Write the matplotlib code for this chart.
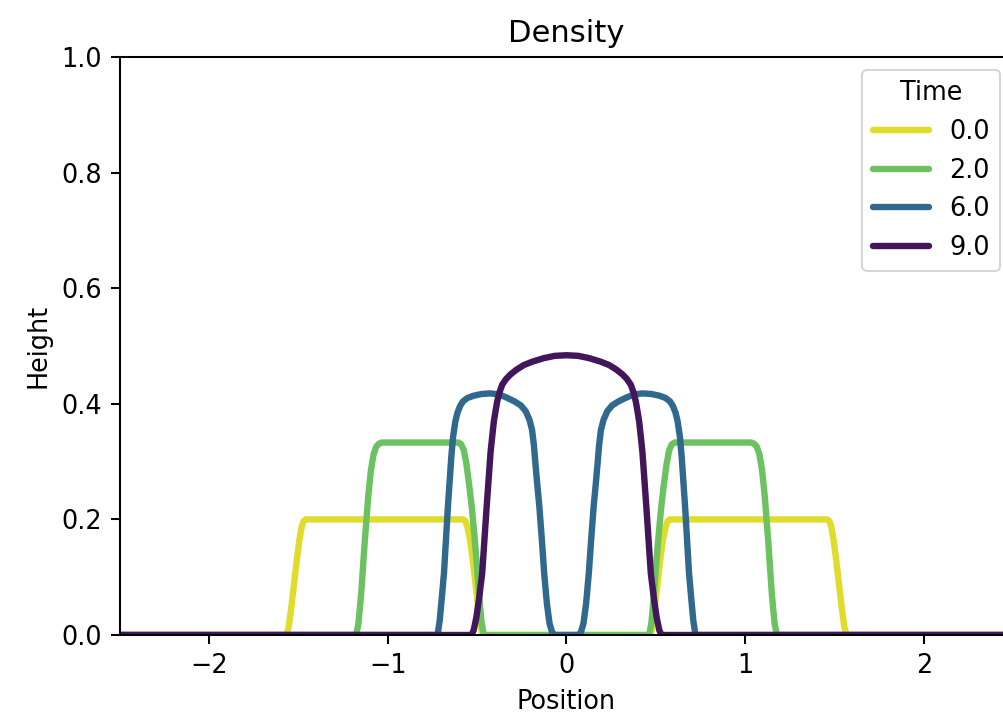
#!/usr/bin/env python3
"""
Density snapshots of a spreading/merging profile at a few output times.

    python3 plot.py

Writes out.png. The axes run past the right edge of the canvas on purpose,
so the right spine and the x=2.5 end are off-screen.
"""
import matplotlib
matplotlib.use("Agg")
import matplotlib.pyplot as plt

# every size below is the matplotlib default times this factor
SCALE = 1.84

TIMES = ["0.0", "2.0", "6.0", "9.0"]
COLORS = ["#e0dc2b", "#6cc261", "#31688e", "#43155a"]

# t = 0.0: two flat blocks
T0_X = [-2.5, -1.568, -1.555, -1.54, -1.525, -1.51, -1.495, -1.483, -1.472, -1.46,
        -0.578, -0.566, -0.555, -0.54, -0.525, -0.51, -0.495, -0.482, -0.47,
        0.47, 0.482, 0.495, 0.51, 0.525, 0.54, 0.555, 0.566, 0.578,
        1.46, 1.472, 1.483, 1.495, 1.51, 1.525, 1.54, 1.555, 1.568, 2.5]
T0_Y = [0.0, 0.0, 0.015, 0.05, 0.09, 0.13, 0.165, 0.187, 0.197, 0.20,
        0.20, 0.197, 0.187, 0.165, 0.13, 0.09, 0.05, 0.015, 0.0,
        0.0, 0.015, 0.05, 0.09, 0.13, 0.165, 0.187, 0.197, 0.20,
        0.20, 0.197, 0.187, 0.165, 0.13, 0.09, 0.05, 0.015, 0.0, 0.0]

# t = 2.0: blocks narrower and taller
T2_X = [-2.5, -1.178, -1.165, -1.15, -1.13, -1.11, -1.095, -1.08, -1.065, -1.05, -1.035,
        -0.605, -0.59, -0.575, -0.56, -0.545, -0.53, -0.515, -0.50, -0.487, -0.475, -0.462,
        0.462, 0.475, 0.487, 0.50, 0.515, 0.53, 0.545, 0.56, 0.575, 0.59, 0.605,
        1.035, 1.05, 1.065, 1.08, 1.095, 1.11, 1.13, 1.15, 1.165, 1.178, 2.5]
T2_Y = [0.0, 0.0, 0.02, 0.07, 0.16, 0.24, 0.285, 0.313, 0.326, 0.331, 0.333,
        0.333, 0.33, 0.32, 0.295, 0.26, 0.22, 0.17, 0.115, 0.06, 0.02, 0.0,
        0.0, 0.02, 0.06, 0.115, 0.17, 0.22, 0.26, 0.295, 0.32, 0.33, 0.333,
        0.333, 0.331, 0.326, 0.313, 0.285, 0.24, 0.16, 0.07, 0.02, 0.0, 0.0]

# t = 6.0: two rounded bumps
T6_X = [-2.5, -0.722, -0.71, -0.698, -0.686, -0.664, -0.645, -0.635, -0.622, -0.61,
        -0.596, -0.58, -0.555, -0.52, -0.475, -0.425, -0.375, -0.33, -0.29,
        -0.255, -0.228, -0.207, -0.193, -0.183, -0.175, -0.165, -0.152, -0.138,
        -0.125, -0.11, -0.095, -0.08, -0.068,
        0.068, 0.08, 0.095, 0.11, 0.125, 0.138, 0.152, 0.165, 0.175, 0.183,
        0.193, 0.207, 0.228, 0.255, 0.29, 0.33, 0.375, 0.425, 0.475, 0.52,
        0.555, 0.58, 0.596, 0.61, 0.622, 0.635, 0.645, 0.664, 0.686, 0.698,
        0.71, 0.722, 2.5]
T6_Y = [0.0, 0.0, 0.025, 0.065, 0.107, 0.222, 0.308, 0.343, 0.37, 0.385,
        0.396, 0.404, 0.41, 0.414, 0.417, 0.418, 0.416, 0.41, 0.404,
        0.397, 0.387, 0.372, 0.355, 0.33, 0.30, 0.265, 0.222, 0.165,
        0.107, 0.055, 0.02, 0.004, 0.0,
        0.0, 0.004, 0.02, 0.055, 0.107, 0.165, 0.222, 0.265, 0.30, 0.33,
        0.355, 0.372, 0.387, 0.397, 0.404, 0.41, 0.416, 0.418, 0.417, 0.414,
        0.41, 0.404, 0.396, 0.385, 0.37, 0.343, 0.308, 0.222, 0.107, 0.065,
        0.025, 0.0, 0.0]

# t = 9.0: single merged dome
T9_X = [-2.5, -0.532, -0.52, -0.505, -0.49, -0.472, -0.447, -0.425, -0.415,
        -0.407, -0.397, -0.388, -0.375, -0.36, -0.338, -0.313, -0.28, -0.239,
        -0.19, -0.127, -0.065, 0.0,
        0.065, 0.127, 0.19, 0.239, 0.28, 0.313, 0.338, 0.36, 0.375, 0.388,
        0.397, 0.407, 0.415, 0.425, 0.447, 0.472, 0.49, 0.505, 0.52, 0.532, 2.5]
T9_Y = [0.0, 0.0, 0.008, 0.03, 0.062, 0.107, 0.222, 0.317, 0.346,
        0.369, 0.388, 0.404, 0.42, 0.433, 0.443, 0.451, 0.459, 0.467,
        0.473, 0.479, 0.483, 0.484,
        0.483, 0.479, 0.473, 0.467, 0.459, 0.451, 0.443, 0.433, 0.42, 0.404,
        0.388, 0.369, 0.346, 0.317, 0.222, 0.107, 0.062, 0.03, 0.008, 0.0, 0.0]

X_TICKS = [-2, -1, 0, 1, 2]
Y_TICKS = [0.0, 0.2, 0.4, 0.6, 0.8, 1.0]


def main():
    fig = plt.figure(figsize=(10.04, 7.18), dpi=100)
    # left/bottom/width/height in figure fractions; width overshoots the canvas
    ax = fig.add_axes([120 / 1004, 83 / 718, 893 / 1004, 578 / 718])

    curves = [(T0_X, T0_Y), (T2_X, T2_Y), (T6_X, T6_Y), (T9_X, T9_Y)]
    for (xs, ys), label, color in zip(curves, TIMES, COLORS):
        ax.plot(xs, ys, color=color, lw=2.5 * SCALE, label=label,
                solid_joinstyle="round", solid_capstyle="round")

    ax.set_xlim(-2.5, 2.5)
    ax.set_ylim(0, 1)
    ax.set_xticks(X_TICKS)
    ax.set_yticks(Y_TICKS)
    ax.set_yticklabels([f"{v:.1f}" for v in Y_TICKS])

    ax.tick_params(labelsize=10 * SCALE, length=3.5 * SCALE,
                   width=0.8 * SCALE, pad=3.5 * SCALE)
    for spine in ax.spines.values():
        spine.set_linewidth(0.8 * SCALE)

    ax.set_title("Density", fontsize=12 * SCALE, pad=6 * SCALE)
    ax.set_xlabel("Position", fontsize=10 * SCALE, labelpad=4 * SCALE)
    ax.set_ylabel("Height", fontsize=10 * SCALE, labelpad=4 * SCALE)

    leg = ax.legend(title="Time", loc="upper right", fontsize=10 * SCALE,
                    title_fontsize=10 * SCALE, handlelength=2.2)
    leg.get_frame().set_linewidth(0.8 * SCALE)

    fig.savefig("out.png", dpi=100)
    plt.close(fig)


if __name__ == "__main__":
    main()
